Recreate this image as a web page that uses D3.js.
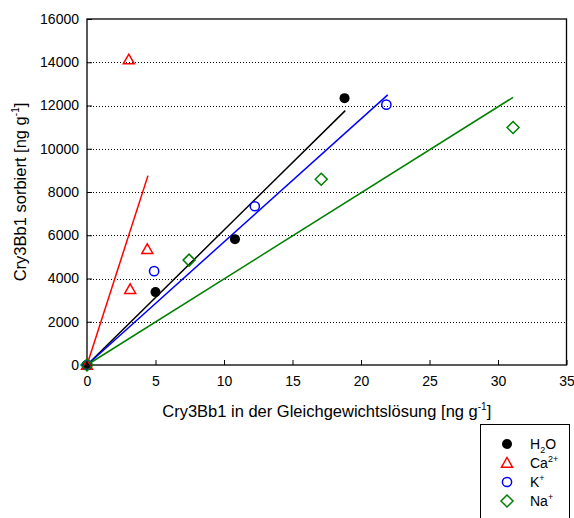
<!DOCTYPE html>
<html>
<head>
<meta charset="utf-8">
<script src="https://cdn.jsdelivr.net/npm/d3@7"></script>
<style>
  body { margin: 0; background: #fff; }
  text { font-family: "Liberation Sans", Arial, sans-serif; }
</style>
</head>
<body>
<div id="chart"></div>
<script>
// values
var seriesNames = ["H2O", "Ca", "K", "Na"];
var seriesColors = ["#000000", "#ff0000", "#0000ff", "#008000"];
var seriesShapes = ["circleFilled", "triangle", "circle", "diamond"];

var h2oX = [0, 5.0, 10.8, 18.8];
var h2oY = [0, 3370, 5820, 12340];
var caX = [0, 3.05, 3.15, 4.4];
var caY = [0, 14120, 3500, 5350];
var kX = [0, 4.9, 12.25, 21.85];
var kY = [0, 4340, 7340, 12040];
var naX = [0, 7.45, 17.1, 31.1];
var naY = [0, 4850, 8590, 10980];

// fitted lines through the origin: slope and end of line
var lineSlopes = [624, 1968, 569, 398];
var lineEnds = [18.85, 4.45, 21.95, 31.1];

var xTicks = [0, 5, 10, 15, 20, 25, 30, 35];
var yTicks = [0, 2000, 4000, 6000, 8000, 10000, 12000, 14000, 16000];

var width = 574, height = 518;
var margin = {left: 87, top: 19, right: 7, bottom: 153};

var svg = d3.select("#chart").append("svg")
    .attr("width", width)
    .attr("height", height);

var x = d3.scaleLinear().domain([0, 35]).range([margin.left, width - margin.right - 0.5]);
var y = d3.scaleLinear().domain([0, 16000]).range([height - margin.bottom, margin.top]);

// dotted gridlines
svg.selectAll(".grid")
    .data(yTicks.filter(function(d) { return d > 0 && d < 16000; }))
    .enter().append("line")
    .attr("class", "grid")
    .attr("x1", x(0)).attr("x2", x(35))
    .attr("y1", function(d) { return Math.round(y(d)) + 0.5; })
    .attr("y2", function(d) { return Math.round(y(d)) + 0.5; })
    .attr("stroke", "#000")
    .attr("stroke-width", 1)
    .attr("stroke-dasharray", "1,2");

// axes with inward ticks
var yAxis = d3.axisLeft(y).tickValues(yTicks).tickSize(-5).tickPadding(8).tickFormat(d3.format("d"));
var xAxis = d3.axisBottom(x).tickValues(xTicks).tickSize(-5).tickPadding(9);

var gy = svg.append("g")
    .attr("transform", "translate(" + x(0) + ",0)")
    .call(yAxis);
var gx = svg.append("g")
    .attr("transform", "translate(0," + y(0) + ")")
    .call(xAxis);
[gx, gy].forEach(function(g) {
    g.select(".domain").remove();
    g.selectAll("line").attr("stroke", "#000");
    g.selectAll("text").attr("font-size", 14).attr("fill", "#000")
        .style("font-family", "'Liberation Sans', Arial, sans-serif");
});
gx.selectAll("text").attr("dy", "0.85em");

// frame
svg.append("rect")
    .attr("x", x(0)).attr("y", y(16000))
    .attr("width", x(35) - x(0)).attr("height", y(0) - y(16000))
    .attr("fill", "none").attr("stroke", "#000").attr("stroke-width", 1.3);

// regression lines
var lines = seriesNames.map(function(n, i) {
    return {slope: lineSlopes[i], end: lineEnds[i], color: seriesColors[i]};
});
svg.selectAll(".fit")
    .data(lines)
    .enter().append("line")
    .attr("class", "fit")
    .attr("x1", x(0)).attr("y1", y(0))
    .attr("x2", function(d) { return x(d.end); })
    .attr("y2", function(d) { return y(d.slope * d.end); })
    .attr("stroke", function(d) { return d.color; })
    .attr("stroke-width", 1.5);

var allX = [h2oX, caX, kX, naX];
var allY = [h2oY, caY, kY, naY];

function drawMarker(g, shape, color, cx, cy) {
    if (shape === "circleFilled") {
        g.append("circle").attr("cx", cx).attr("cy", cy).attr("r", 5)
            .attr("fill", color);
    } else if (shape === "circle") {
        g.append("circle").attr("cx", cx).attr("cy", cy).attr("r", 4.6)
            .attr("fill", "none").attr("stroke", color).attr("stroke-width", 1.5);
    } else if (shape === "triangle") {
        var s = 5.5;
        g.append("path")
            .attr("d", "M" + cx + "," + (cy - s) + "L" + (cx + s) + "," + (cy + s * 0.75) +
                "L" + (cx - s) + "," + (cy + s * 0.75) + "Z")
            .attr("fill", "none").attr("stroke", color).attr("stroke-width", 1.5);
    } else if (shape === "diamond") {
        var r = 6;
        g.append("path")
            .attr("d", "M" + cx + "," + (cy - r) + "L" + (cx + r) + "," + cy +
                "L" + cx + "," + (cy + r) + "L" + (cx - r) + "," + cy + "Z")
            .attr("fill", "none").attr("stroke", color).attr("stroke-width", 1.5);
    }
}

var pts = svg.append("g");
seriesNames.forEach(function(n, i) {
    allX[i].forEach(function(xv, j) {
        drawMarker(pts, seriesShapes[i], seriesColors[i], x(xv), y(allY[i][j]));
    });
});

// axis titles
var yt = svg.append("text")
    .attr("transform", "translate(26," + ((y(0) + y(16000)) / 2) + ") rotate(-90)")
    .attr("text-anchor", "middle")
    .attr("font-size", 16.5);
yt.append("tspan").text("Cry3Bb1 sorbiert [ng g");
yt.append("tspan").attr("font-size", 10).attr("dy", -7).text("-1");
yt.append("tspan").attr("dy", 7).text("]");

var xt = svg.append("text")
    .attr("x", (x(0) + x(35)) / 2)
    .attr("y", 417)
    .attr("text-anchor", "middle")
    .attr("font-size", 16.5);
xt.append("tspan").text("Cry3Bb1 in der Gleichgewichtslösung [ng g");
xt.append("tspan").attr("font-size", 10).attr("dy", -7).text("-1");
xt.append("tspan").attr("dy", 7).text("]");

// legend
var legend = svg.append("g");
legend.append("rect")
    .attr("x", 480.5).attr("y", 424.5)
    .attr("width", 89).attr("height", 100)
    .attr("fill", "#fff").attr("stroke", "#000").attr("stroke-width", 1);

var legendRows = [444, 463, 482, 501];
var legendMain = ["H", "Ca", "K", "Na"];
var legendSub = ["2", "", "", ""];
var legendSup = ["", "2+", "+", "+"];
seriesNames.forEach(function(n, i) {
    drawMarker(legend, seriesShapes[i], seriesColors[i], 507, legendRows[i]);
    var t = legend.append("text")
        .attr("x", 530).attr("y", legendRows[i] + 5)
        .attr("font-size", 14);
    t.append("tspan").text(legendMain[i]);
    if (legendSub[i]) {
        t.append("tspan").attr("font-size", 9).attr("dy", 4).text(legendSub[i]);
        t.append("tspan").attr("dy", -4).text("O");
    }
    if (legendSup[i]) {
        t.append("tspan").attr("font-size", 9).attr("dy", -6).text(legendSup[i]);
    }
});
</script>
</body>
</html>
